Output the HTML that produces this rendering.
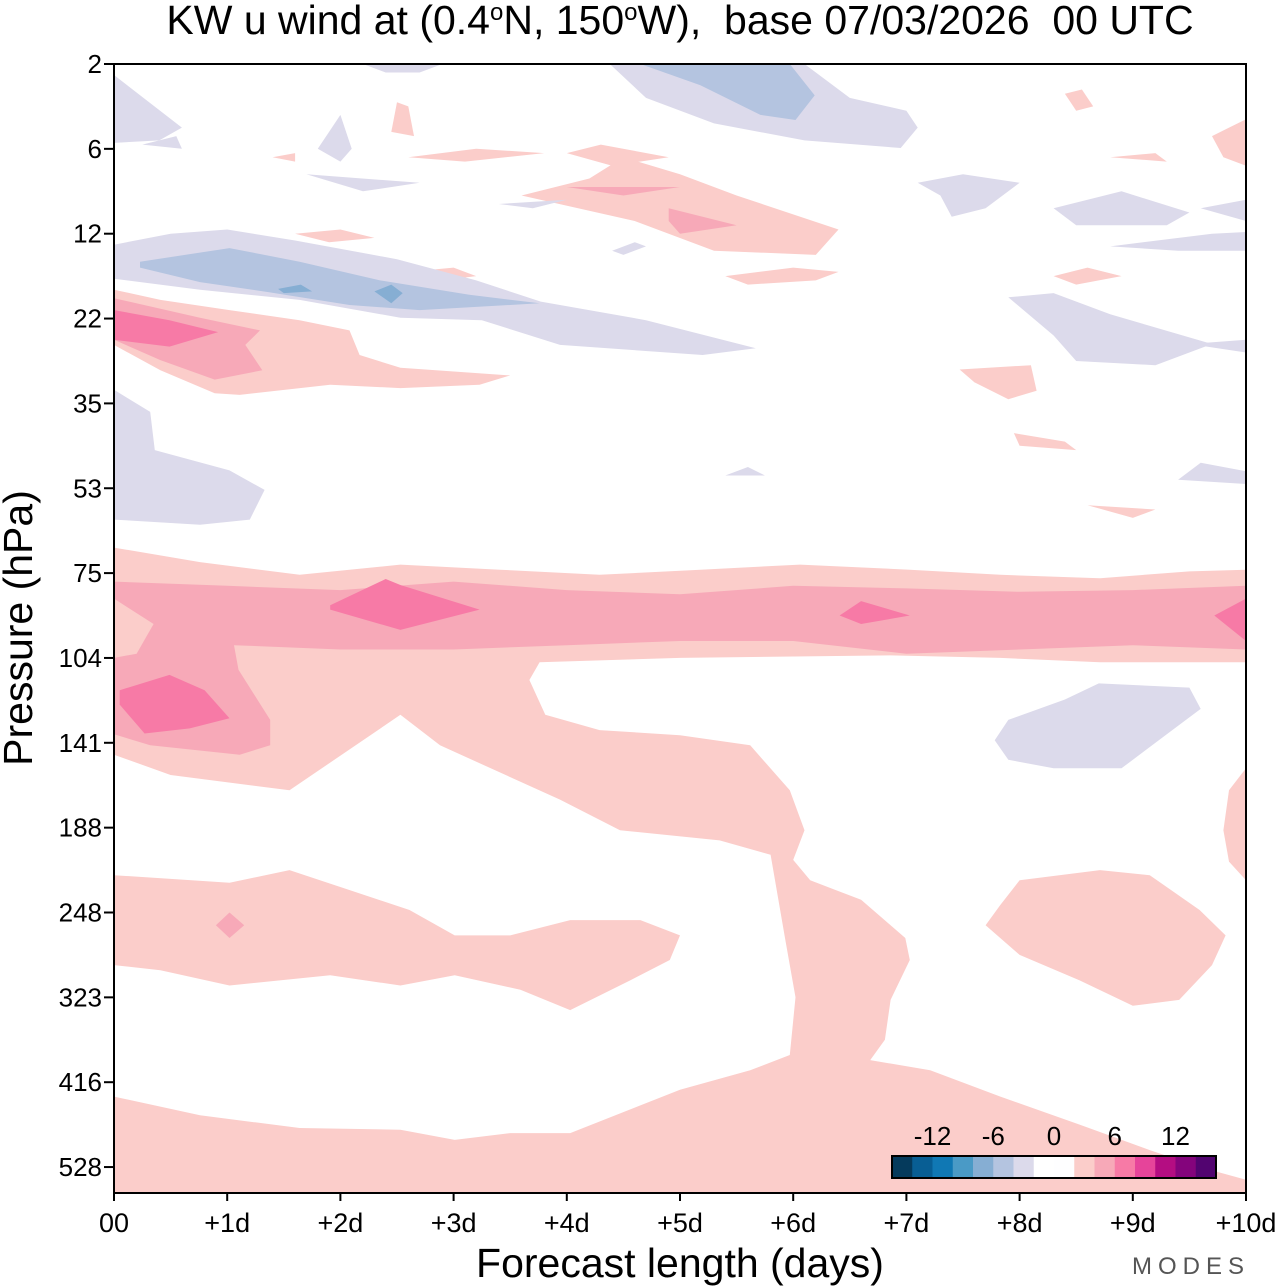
<!DOCTYPE html>
<html><head><meta charset="utf-8"><style>
body{margin:0;background:#fff;}
svg{display:block;font-family:"Liberation Sans",sans-serif;}
</style></head><body>
<svg id="chart" width="1280" height="1286" viewBox="0 0 1280 1286">
<g id="fills"></g>
<g id="axes"></g>
</svg>
<script>
// ---- data ----
const pressureLevels = [2,6,12,22,35,53,75,104,141,188,248,323,416,528];
const dayTicks = ["00","+1d","+2d","+3d","+4d","+5d","+6d","+7d","+8d","+9d","+10d"];
const legendValues = [-12,-6,0,6,12];
const legendColors = ["#053a5c","#085e94","#1078b4","#4a9ac6","#86aed3","#b4c4e0","#dcdaeb","#ffffff","#fefeff","#fbcdca","#f7a9b8","#f77aa6","#e6449a","#b40d82","#84047c","#520470"];
// contour regions: flat lists of (day, pressure-level index)
const lightPinkRegions = [
 [0,5.7,0.76,5.87,1.64,6.02,2.53,5.9,3.41,5.96,4.29,6.02,5.18,5.96,6.06,5.9,7.03,5.96,7.83,6.02,8.71,6.06,9.5,5.98,10,5.96,10,13.31,0,13.31],
 [0,2.66,0.41,2.78,1.02,2.9,1.64,3.02,2.08,3.14,2.17,3.43,2.53,3.58,3.5,3.67,3.23,3.78,2.53,3.82,1.91,3.78,1.11,3.9,0.89,3.88,0.41,3.61,0,3.31],
 [3.6,1.55,4.2,1.35,4.5,1.1,5.0,1.3,5.5,1.55,6.4,1.95,6.2,2.25,5.3,2.2,4.6,1.85],
 [7.47,3.6,8.1,3.55,8.15,3.85,7.9,3.95,7.6,3.75],
 [7.95,4.35,8.4,4.45,8.5,4.55,8.0,4.5],
 [8.6,5.2,9.2,5.25,9.0,5.35],
 [9.7,0.85,10,0.65,10,1.2,9.8,1.1],
 [2.5,0.45,2.6,0.5,2.65,0.85,2.45,0.8],
 [8.4,0.35,8.55,0.3,8.65,0.5,8.5,0.55],
 [1.6,2.0,2.0,1.95,2.3,2.05,1.9,2.1],
 [2.6,2.45,3.0,2.4,3.2,2.5,2.9,2.55],
 [5.4,2.5,6.0,2.4,6.4,2.45,6.2,2.55,5.6,2.6],
 [8.3,2.5,8.6,2.4,8.9,2.5,8.5,2.6],
 [1.4,1.1,1.6,1.05,1.6,1.15],
 [2.6,1.1,3.2,1.0,3.8,1.05,3.1,1.15],
 [4.0,1.05,4.3,0.95,4.9,1.1,4.4,1.2],
 [8.8,1.1,9.2,1.05,9.3,1.15]
];
const whiteHoles = [
 [0,8.14,0.5,8.38,1.55,8.56,2.53,7.67,2.88,8.03,3.94,8.67,4.47,9.03,5.35,9.15,5.8,9.32,5.93,10.32,6.02,11.0,5.97,11.68,5.62,11.86,5.0,12.09,4.03,12.6,3.5,12.6,3.01,12.68,2.53,12.56,1.64,12.54,0.76,12.39,0,12.17],
 [3.76,7.05,3.67,7.26,3.81,7.67,4.29,7.85,5.0,7.91,5.62,8.03,5.97,8.56,6.1,9.03,6.0,9.38,6.15,9.62,6.6,9.85,6.99,10.3,7.03,10.56,6.86,11.03,6.81,11.5,6.68,11.74,7.21,11.86,7.83,12.17,8.53,12.5,9.15,12.8,9.59,13.0,10,13.15,10,7.05,8.71,7.05,7.83,7.0,6.86,6.97,5.0,7.0]
];
const lightPinkOverHoles = [
 [0,9.56,1.02,9.65,1.55,9.5,2.61,9.97,3.01,10.27,3.5,10.27,4.03,10.09,4.65,10.09,5.0,10.27,4.91,10.56,4.56,10.8,4.03,11.15,3.59,10.91,3.01,10.74,2.53,10.86,1.91,10.74,1.02,10.86,0.41,10.68,0,10.62],
 [10,8.3,9.85,8.56,9.8,9.03,9.85,9.4,10,9.62],
 [7.7,10.15,7.83,9.91,8.0,9.62,8.71,9.5,9.15,9.56,9.59,9.97,9.82,10.27,9.7,10.62,9.41,11.03,9.0,11.1,8.53,10.8,8.0,10.5]
];
const mediumPinkRegions = [
 [0,6.1,1.0,6.15,2.0,6.2,3.0,6.1,4.0,6.2,5.0,6.25,6.0,6.15,7.0,6.18,8.0,6.22,9.0,6.2,10,6.15,10,6.9,9.0,6.85,8.0,6.9,7.0,6.95,6.0,6.8,5.0,6.8,4.0,6.85,3.0,6.9,2.0,6.9,1.06,6.85,1.1,7.14,1.38,7.73,1.38,8.03,1.11,8.14,0.32,8.03,0,7.9],
 [0,2.76,0.76,2.99,1.29,3.14,1.16,3.31,1.31,3.61,0.89,3.72,0.41,3.49,0,3.25],
 [0.9,10.15,1.02,10.0,1.15,10.15,1.02,10.3],
 [4.0,1.45,5.0,1.45,4.5,1.55],
 [4.9,1.7,5.5,1.9,5.0,2.0,4.9,1.85]
];
const lightInBand = [[0,6.3,0.35,6.6,0.2,6.95,0,7.0]];
const darkPinkRegions = [
 [1.91,6.38,2.4,6.07,2.53,6.14,3.23,6.43,2.53,6.67,1.91,6.43],
 [6.41,6.5,6.6,6.33,7.03,6.5,6.6,6.6],
 [9.72,6.5,10,6.3,10,6.8],
 [0.05,7.38,0.49,7.2,0.8,7.38,1.02,7.71,0.67,7.83,0.27,7.89,0.05,7.55],
 [0,2.9,0.49,3.02,0.92,3.16,0.49,3.33,0,3.25]
];
const lavenderRegions = [
 [0,2.13,0.5,2.0,1.0,1.95,1.6,2.08,2.5,2.3,3.2,2.55,3.77,2.8,4.7,3.02,5.67,3.35,5.2,3.43,3.94,3.31,3.25,3.02,2.53,2.99,1.64,2.78,0.76,2.66,0,2.53],
 [0,0.13,0.6,0.75,0.4,0.9,0,0.93],
 [4.38,0,6.1,0,6.5,0.4,7.0,0.55,7.1,0.75,6.95,0.99,6.1,0.9,5.3,0.7,4.7,0.4],
 [2.2,0,2.9,0,2.7,0.1,2.4,0.1],
 [8.3,1.7,8.9,1.5,9.5,1.75,9.3,1.9,8.5,1.9],
 [8.8,2.15,9.7,2.0,10,1.98,10,2.2,9.4,2.2],
 [9.6,1.7,10,1.6,10,1.85],
 [7.9,2.75,8.3,2.7,8.8,2.95,9.7,3.3,9.2,3.55,8.5,3.5,8.3,3.2],
 [9.5,3.3,10,3.25,10,3.4],
 [7.1,1.4,7.5,1.3,8.0,1.4,7.7,1.7,7.4,1.8,7.3,1.55],
 [1.7,1.3,2.7,1.4,2.2,1.5],
 [1.8,1.0,2.0,0.6,2.1,1.0,2.0,1.15],
 [0.25,0.95,0.55,0.85,0.6,1.0],
 [3.4,1.65,4.0,1.6,3.7,1.7],
 [0,3.84,0.32,4.1,0.36,4.55,1.02,4.79,1.33,5.02,1.2,5.37,0.76,5.43,0,5.37],
 [9.4,4.9,9.6,4.7,10,4.8,10,4.95],
 [5.4,4.85,5.6,4.75,5.75,4.85],
 [7.78,7.97,7.9,7.73,8.4,7.49,8.7,7.3,9.5,7.35,9.6,7.6,9.3,7.9,8.9,8.3,8.3,8.3,7.9,8.2],
 [4.4,2.2,4.6,2.1,4.7,2.15,4.5,2.25]
];
const mediumBlueRegions = [
 [0.23,2.33,1.02,2.17,1.64,2.33,2.35,2.55,3.14,2.72,3.76,2.82,2.7,2.9,2.08,2.84,1.37,2.69,0.76,2.57,0.23,2.4],
 [4.65,0,5.97,0,6.19,0.37,6.02,0.66,5.71,0.6,5.18,0.25]
];
const darkBlueRegions = [
 [1.45,2.65,1.65,2.6,1.75,2.68,1.5,2.7],
 [2.3,2.68,2.45,2.6,2.55,2.7,2.45,2.82]
];

// ---- axes ----
const X0=114, X1=1246, Y0=64, YSTEP=84.85, YB=1193;
const xs = d => X0 + d*(X1-X0)/10;
const ys = i => Y0 + i*YSTEP;
const NS="http://www.w3.org/2000/svg";
const fills=document.getElementById('fills');
function poly(arr,color,name){
  const p=document.createElementNS(NS,'polygon');
  let pts=[];
  for(let k=0;k<arr.length;k+=2) pts.push(xs(arr[k]).toFixed(1)+','+ys(arr[k+1]).toFixed(1));
  p.setAttribute('points',pts.join(' '));
  p.setAttribute('fill',color);
  
  
  fills.appendChild(p);
}
lightPinkRegions.forEach(a=>poly(a,"#fbcdca","contour-0-3"));
whiteHoles.forEach(a=>poly(a,"#ffffff","contour-zero"));
lightPinkOverHoles.forEach(a=>poly(a,"#fbcdca","contour-0-3"));
mediumPinkRegions.forEach(a=>poly(a,"#f7a9b8","contour-3-6"));
lightInBand.forEach(a=>poly(a,"#fbcdca","contour-0-3"));
darkPinkRegions.forEach(a=>poly(a,"#f77aa6","contour-6-9"));
lavenderRegions.forEach(a=>poly(a,"#dcdaeb","contour-neg-0-3"));
mediumBlueRegions.forEach(a=>poly(a,"#b4c4e0","contour-neg-3-6"));
darkBlueRegions.forEach(a=>poly(a,"#86aed3","contour-neg-6-9"));

const axes=document.getElementById('axes');
function el(tag,attrs,text){
  const e=document.createElementNS(NS,tag);
  for(const k in attrs) e.setAttribute(k,attrs[k]);
  if(text!==undefined) e.textContent=text;
  axes.appendChild(e); return e;
}
const frame=el('rect',{x:X0,y:Y0,width:X1-X0,height:YB-Y0,fill:'none',stroke:'#000','stroke-width':2});


pressureLevels.forEach((p,i)=>{
  const t2=el('line',{x1:X0,x2:X0-10,y1:ys(i),y2:ys(i),stroke:'#000','stroke-width':2});
  
  
  const lb=el('text',{x:X0-12,y:ys(i)+9,'text-anchor':'end','font-size':26,fill:'#000'},String(p));
  
  
});
dayTicks.forEach((d,i)=>{
  const t=el('line',{x1:xs(i),x2:xs(i),y1:YB,y2:YB+8,stroke:'#000','stroke-width':2});
  
  
  const lb=el('text',{x:xs(i),y:1232,'text-anchor':'middle','font-size':27,fill:'#000'},d);
  
  
});
const title=el('text',{x:680,y:34,'text-anchor':'middle','font-size':41,fill:'#000','xml:space':'preserve',style:'white-space:pre'});
title.innerHTML='KW u wind at (0.4<tspan dy="-14" font-size="24">o</tspan><tspan dy="14">N, 150</tspan><tspan dy="-14" font-size="24">o</tspan><tspan dy="14">W),  base 07/03/2026  00 UTC</tspan>';


const xt=el('text',{x:680,y:1277,'text-anchor':'middle','font-size':41,fill:'#000'},'Forecast length (days)');


const yt=el('text',{x:0,y:0,'text-anchor':'middle','font-size':41,fill:'#000',transform:'translate(32,628) rotate(-90)'},'Pressure (hPa)');


const brand=el('text',{x:1250,y:1274,'text-anchor':'end','font-size':24,fill:'#555','letter-spacing':6},'MODES');


// legend
const LX=892, LW=324/legendColors.length, LY=1156, LH=22;
legendColors.forEach((c,i)=>{
  const r=el('rect',{x:LX+i*LW,y:LY,width:LW+0.3,height:LH,fill:c});
  
  
});
const lf=el('rect',{x:LX,y:LY,width:324,height:LH,fill:'none',stroke:'#000','stroke-width':2});


legendValues.forEach(v=>{
  const bx=LX+(v/2+8)*LW;
  const lb=el('text',{x:bx,y:1145,'text-anchor':'middle','font-size':26,fill:'#000'},String(v));
  
  
});
</script>
</body></html>
